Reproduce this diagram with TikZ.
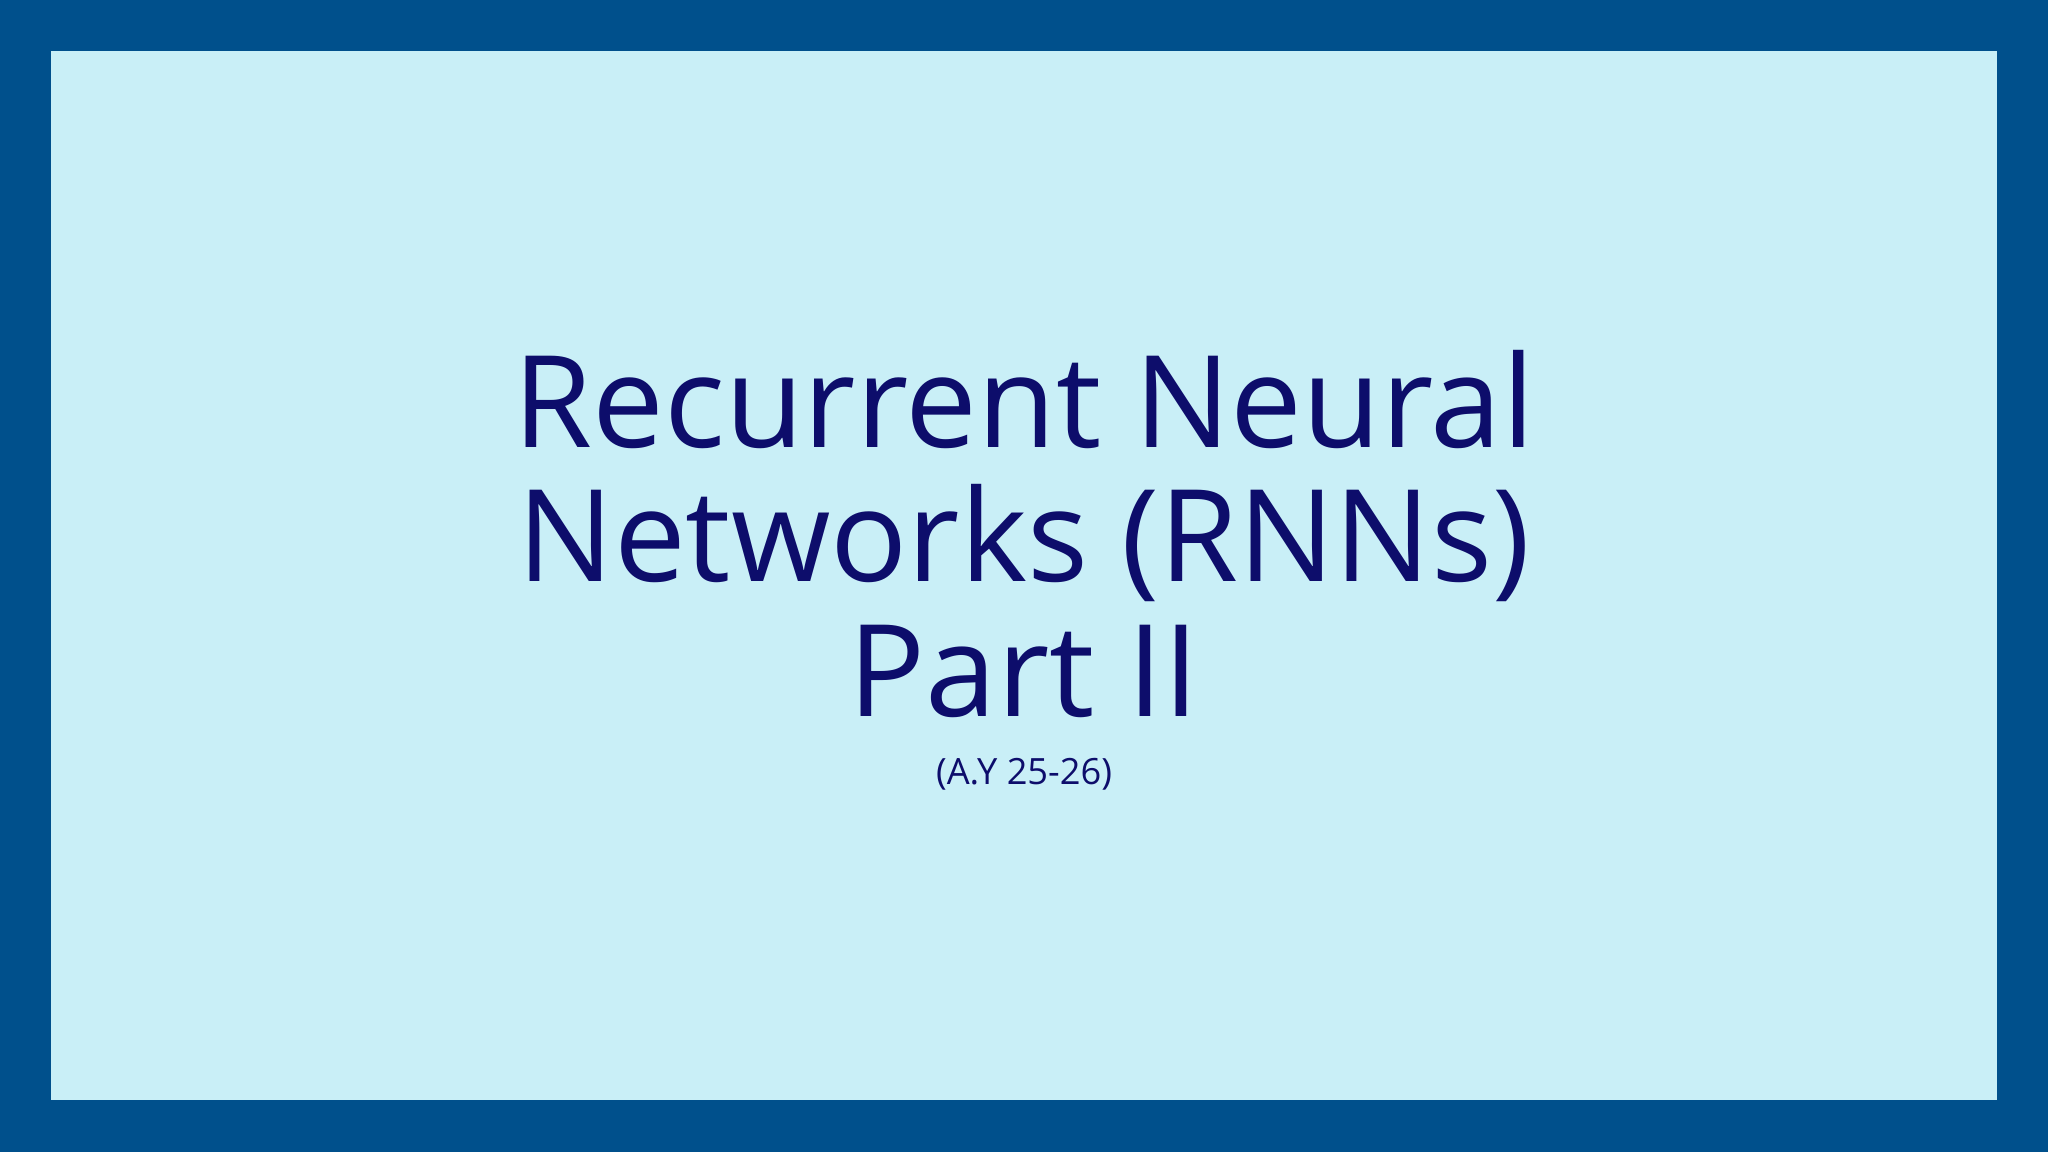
\documentclass[tikz,border=0pt]{standalone}
\usepackage{fontspec}
\setmainfont{Open Sans}
\definecolor{frame}{HTML}{00508C}
\definecolor{bg}{HTML}{C9EFF7}
\definecolor{ink}{HTML}{0D0D6B}
\begin{document}
\begin{tikzpicture}
\useasboundingbox (0,0) rectangle (20.48,11.52);
\fill[frame] (0,0) rectangle (20.48,11.52);
\fill[bg] (0.51,0.52) rectangle (19.97,11.01);
\tikzset{title/.style={anchor=base,text=ink,font=\fontsize{36.4}{38}\selectfont,inner sep=0pt}}
\node[title] (l1) at (10.24,7.04) {Recurrent Neural};
\node[title] (l2) at (10.24,5.70) {Networks (RNNs)};
\node[title] (l3) at (10.24,4.35) {Part II};
\node[anchor=base,text=ink,font=\fontsize{10.3}{12}\selectfont,inner sep=0pt] (ay) at (10.24,3.67) {(A.Y 25-26)};
\end{tikzpicture}
\end{document}
